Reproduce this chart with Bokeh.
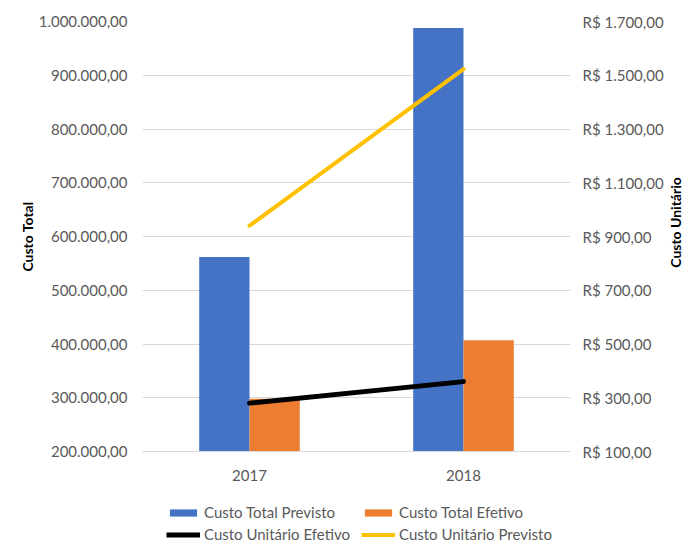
import math
from bokeh.plotting import figure
from bokeh.layouts import column, row
from bokeh.models import (FactorRange, Range1d, LinearAxis, FixedTicker, Legend,
                          LegendItem, ColumnDataSource, Label)
from bokeh.transform import dodge
from bokeh.embed import file_html
from bokeh.resources import INLINE

# ---- data ----
years = ["2017", "2018"]
custo_total_previsto = [562000, 988000]
custo_total_efetivo = [298000, 407000]
custo_unit_efetivo = [280, 360]
custo_unit_previsto = [940, 1523]

left_ticks = [200000, 300000, 400000, 500000, 600000, 700000, 800000, 900000, 1000000]
left_labels = ["200.000,00", "300.000,00", "400.000,00", "500.000,00", "600.000,00",
               "700.000,00", "800.000,00", "900.000,00", "1.000.000,00"]
right_ticks = [100, 300, 500, 700, 900, 1100, 1300, 1500, 1700]
right_labels = ["R$ 100,00", "R$ 300,00", "R$ 500,00", "R$ 700,00", "R$ 900,00",
                "R$ 1.100,00", "R$ 1.300,00", "R$ 1.500,00", "R$ 1.700,00"]

FONT = "Lato"
TICK_COLOR = "#595959"
BLUE, ORANGE, BLACK, YELLOW = "#4472C4", "#ED7D31", "#000000", "#FFC000"

src = ColumnDataSource(dict(year=years, prev=custo_total_previsto, efet=custo_total_efetivo,
                            uefet=custo_unit_efetivo, uprev=custo_unit_previsto))

# ---------------- main chart ----------------
p = figure(width=666, height=491, x_range=FactorRange(*years),
           y_range=Range1d(200000, 1000000), output_backend="svg",
           toolbar_location=None, min_border_left=142, min_border_right=90,
           min_border_top=21, min_border_bottom=40)
p.extra_y_ranges = {"unit": Range1d(100, 1700)}
p.outline_line_color = None

bw = 0.235
p.vbar(x=dodge("year", -bw / 2, range=p.x_range), top="prev", bottom=200000,
       width=bw, source=src, fill_color=BLUE, line_color=None)
p.vbar(x=dodge("year", bw / 2, range=p.x_range), top="efet", bottom=200000,
       width=bw, source=src, fill_color=ORANGE, line_color=None)
p.line(x="year", y="uefet", source=src, y_range_name="unit",
       line_color=BLACK, line_width=5, line_cap="round")
p.line(x="year", y="uprev", source=src, y_range_name="unit",
       line_color=YELLOW, line_width=4, line_cap="round")


def style_axis(a, standoff):
    a.axis_line_color = None
    a.major_tick_line_color = None
    a.minor_tick_line_color = None
    a.major_tick_out = 0
    a.major_tick_in = 0
    a.minor_tick_out = 0
    a.major_label_text_font = FONT
    a.major_label_text_font_size = "15px"
    a.major_label_text_color = TICK_COLOR
    a.major_label_standoff = standoff


ax = p.yaxis[0]
ax.ticker = FixedTicker(ticks=left_ticks)
ax.major_label_overrides = dict(zip(left_ticks, left_labels))
style_axis(ax, 15)
ax.axis_label = "Custo Total"
ax.axis_label_text_font = FONT
ax.axis_label_text_font_size = "14px"
ax.axis_label_text_font_style = "bold"
ax.axis_label_text_color = "#000000"
ax.axis_label_standoff = 0

rax = LinearAxis(y_range_name="unit", ticker=FixedTicker(ticks=right_ticks))
rax.major_label_overrides = dict(zip(right_ticks, right_labels))
style_axis(rax, 12)
p.add_layout(rax, "right")

xa = p.xaxis[0]
style_axis(xa, 18)
xa.axis_line_color = "#D9D9D9"

p.xgrid.grid_line_color = None
p.ygrid.ticker = FixedTicker(ticks=left_ticks)
p.ygrid.grid_line_color = "#D9D9D9"
p.ygrid.grid_line_width = 1

# ---------------- right axis title (reads bottom-to-top) ----------------
lab = figure(width=17, height=491, x_range=Range1d(0, 1), y_range=Range1d(0, 1),
             output_backend="svg", toolbar_location=None,
             x_axis_location=None, y_axis_location=None,
             min_border_left=0, min_border_right=0, min_border_top=0, min_border_bottom=0)
lab.outline_line_color = None
lab.grid.visible = False
lab.add_layout(Label(x=8.5, y=229, x_units="screen", y_units="screen",
                     text="Custo Unitário", angle=math.pi / 2,
                     text_align="center", text_baseline="middle",
                     text_font=FONT, text_font_size="14px", text_font_style="bold",
                     text_color="#000000"))

# ---------------- legend strip ----------------
leg = figure(width=683, height=52, x_range=Range1d(0, 1), y_range=Range1d(0, 1),
             output_backend="svg", toolbar_location=None,
             x_axis_location=None, y_axis_location=None,
             min_border_left=0, min_border_right=0, min_border_top=0, min_border_bottom=0)
leg.outline_line_color = None
leg.grid.visible = False
# legend proxies, placed outside the visible range of this strip
g_prev = leg.vbar(x=[-5], top=[-5], width=0.1, fill_color=BLUE, line_color=None)
g_efet = leg.vbar(x=[-5], top=[-5], width=0.1, fill_color=ORANGE, line_color=None)
g_uefet = leg.line(x=[-5, -4], y=[-5, -4], line_color=BLACK, line_width=5)
g_uprev = leg.line(x=[-5, -4], y=[-5, -4], line_color=YELLOW, line_width=4)


def make_legend(items, x):
    lg = Legend(items=items, location=(x, 0))
    lg.glyph_width = 34
    lg.glyph_height = 9
    lg.label_height = 18
    lg.label_standoff = 4
    lg.spacing = 4
    lg.padding = 0
    lg.margin = 0
    lg.border_line_color = None
    lg.background_fill_alpha = 0
    lg.label_text_font = FONT
    lg.label_text_font_size = "15px"
    lg.label_text_color = TICK_COLOR
    return lg


leg.add_layout(make_legend([LegendItem(label="Custo Total Previsto", renderers=[g_prev]),
                            LegendItem(label="Custo Unitário Efetivo", renderers=[g_uefet])],
                           166), "center")
leg.add_layout(make_legend([LegendItem(label="Custo Total Efetivo", renderers=[g_efet]),
                            LegendItem(label="Custo Unitário Previsto", renderers=[g_uprev])],
                           361), "center")

layout = column(row(p, lab), leg)
open("out.html", "w").write(file_html(layout, INLINE))
